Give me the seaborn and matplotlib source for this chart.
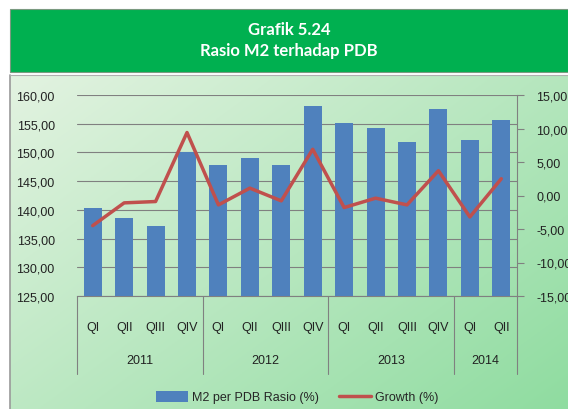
import numpy as np
import pandas as pd
import matplotlib
matplotlib.use("Agg")
import matplotlib.pyplot as plt
from matplotlib.patches import Rectangle
from matplotlib.lines import Line2D
from matplotlib.patches import Patch
import seaborn as sns

# ---- data ----
quarters = ["QI", "QII", "QIII", "QIV", "QI", "QII", "QIII", "QIV",
            "QI", "QII", "QIII", "QIV", "QI", "QII"]
years = ["2011", "2012", "2013", "2014"]
year_counts = [4, 4, 4, 2]
m2_ratio = [140.3, 138.6, 137.2, 150.1, 147.8, 149.1, 147.8, 158.0,
            155.1, 154.3, 151.9, 157.5, 152.2, 155.6]
growth = [-4.5, -1.1, -0.9, 9.4, -1.4, 1.1, -0.8, 6.9,
          -1.8, -0.4, -1.4, 3.7, -3.2, 2.5]
title_lines = ["Grafik 5.24", "Rasio M2 terhadap PDB"]
left_ticks = [125, 130, 135, 140, 145, 150, 155, 160]
right_ticks = [-15, -10, -5, 0, 5, 10, 15]

period = [f"{y}-{i}" for y, n in zip(years, year_counts) for i in range(n)]
df = pd.DataFrame({"period": period, "m2": m2_ratio, "growth": growth,
                   "pos": np.arange(len(period))})

sns.set_theme(style="white")
plt.rcParams["font.family"] = ["Liberation Sans", "DejaVu Sans"]

W, H = 568, 410
fig = plt.figure(figsize=(W / 100, H / 100), dpi=100)
fig.patch.set_facecolor("white")

def fx(px):
    return px / W

def fy(py):
    return 1 - py / H

# background gradient panel
bg = fig.add_axes([fx(10), 0, fx(558), 1 - (76 / H)])
xx, yy = np.meshgrid(np.linspace(0, 1, 200), np.linspace(0, 1, 200))
t = (xx * 0.55 + yy * 0.45)
c0 = np.array([0xe3, 0xf3, 0xe1]) / 255
c1 = np.array([0x8f, 0xdc, 0xa0]) / 255
img = c0[None, None, :] * (1 - t[..., None]) + c1[None, None, :] * t[..., None]
bg.imshow(img, aspect="auto", extent=[0, 1, 0, 1], origin="upper")
bg.set_axis_off()
fig.add_artist(Line2D([fx(10), fx(10)], [0, fy(76)], color="#9a9a9a", lw=1.2))
fig.add_artist(Line2D([fx(10), 1], [fy(76), fy(76)], color="#b0b0b0", lw=0.8))

# header
fig.add_artist(Rectangle((fx(10), fy(73)), 1 - fx(10), (73 - 10) / H,
                         transform=fig.transFigure, facecolor="#00b050",
                         edgecolor="#7a9a80", lw=0.8))
fig.text(fx(289), fy(30), title_lines[0], ha="center", va="center",
         color="white", fontsize=12, fontweight="bold", family="Lato")
fig.text(fx(289), fy(51), title_lines[1], ha="center", va="center",
         color="white", fontsize=12, fontweight="bold", family="Lato")

# main axes
ax = fig.add_axes([fx(77), fy(297), fx(440), (297 - 96) / H])
ax.set_facecolor("none")
sns.barplot(data=df, x="period", y="m2", color="#4f81bd", saturation=1,
            width=0.57, ax=ax, zorder=3, linewidth=0, edgecolor="none")
ax.set_ylim(125, 160)
ax.set_xlim(-0.5, len(period) - 0.5)
ax.set_yticks(left_ticks)
ax.set_yticklabels([f"{v:.2f}".replace(".", ",") for v in left_ticks],
                   fontsize=9, color="#222222")
ax.tick_params(axis="y", length=0, pad=16)
ax.grid(axis="y", color="#808080", lw=0.8, zorder=0)
ax.set_axisbelow(True)
for s in ["left", "top", "right"]:
    ax.spines[s].set_visible(False)
ax.spines["bottom"].set_color("#808080")
ax.spines["bottom"].set_linewidth(0.8)
ax.set_xticks(range(len(period)))
ax.set_xticklabels(quarters, fontsize=9, color="#222222")
ax.tick_params(axis="x", length=0, pad=18)
ax.set_xlabel("")
ax.set_ylabel("")

# group separators and year labels
trans = ax.get_xaxis_transform()
depth = (375 - 297) / 201
bounds = [-0.5]
for n in year_counts:
    bounds.append(bounds[-1] + n)
for b in bounds:
    ax.plot([b, b], [0, -depth], transform=trans, color="#808080", lw=0.8,
            clip_on=False)
for y, a, b in zip(years, bounds[:-1], bounds[1:]):
    ax.text((a + b) / 2, -(361 - 297) / 201, y, transform=trans,
            ha="center", va="center", fontsize=9, color="#222222")

# growth line on twin axis
ax2 = ax.twinx()
sns.lineplot(data=df, x="pos", y="growth", color="#c0504d", lw=2.5, ax=ax2,
             zorder=5)
ax2.set_ylim(-15, 15)
ax2.set_xlim(-0.5, len(period) - 0.5)
ax2.set_yticks(right_ticks)
ax2.set_yticklabels([f"{v:.2f}".replace(".", ",") for v in right_ticks],
                    fontsize=9, color="#222222")
ax2.tick_params(axis="y", length=5, width=0.8, color="#808080", pad=9,
                right=True)
ax2.set_ylabel("")
ax2.set_xlabel("")
for s in ["left", "top", "bottom"]:
    ax2.spines[s].set_visible(False)
ax2.spines["right"].set_color("#808080")
ax2.spines["right"].set_linewidth(0.8)
ax2.grid(False)

# legend
handles = [Patch(facecolor="#4f81bd", edgecolor="none"),
           Line2D([0], [0], color="#c0504d", lw=2.5)]
fig.legend(handles, ["M2 per PDB Rasio (%)", "Growth (%)"], loc="center",
           bbox_to_anchor=(fx(297), fy(398)), ncol=2, frameon=False,
           fontsize=9, handlelength=2.6, handleheight=1.0, columnspacing=1.6,
           handletextpad=0.3)

fig.savefig("out.png", dpi=100)
